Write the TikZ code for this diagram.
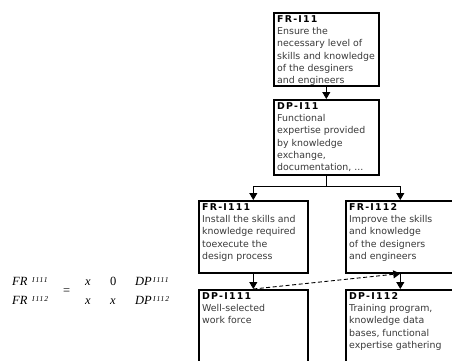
\documentclass[tikz,border=0pt]{standalone}
\usepackage{fontspec}
\usetikzlibrary{arrows.meta}
\newfontfamily\boxfont{DejaVu Sans}
\newfontfamily\headfont{DejaVu Sans}[LetterSpace=13]
\newfontfamily\eqfont{Liberation Serif}
\newfontfamily\eqsubfont{Liberation Serif}[LetterSpace=12]
\definecolor{bodygray}{HTML}{3A3A3A}
\tikzset{
  box/.style={draw=black, line width=1.6pt, rectangle, inner sep=0pt, anchor=north west},
  txt/.style={anchor=north west, inner sep=0pt, align=left, text=bodygray,
    font=\boxfont\fontsize{9.4}{12.3}\selectfont, xshift=4pt, yshift=-3.2pt},
  conn/.style={draw=black, line width=0.9pt},
  tip/.style={-{Triangle[width=8pt,length=7pt]}},
  eq/.style={anchor=base west, inner sep=0pt, font=\eqfont\itshape\fontsize{12.5}{14}\selectfont},
  eqrm/.style={anchor=base west, inner sep=0pt, font=\eqfont\fontsize{12.5}{14}\selectfont},
  eqsub/.style={anchor=base west, inner sep=0pt, font=\eqsubfont\itshape\fontsize{7.5}{8}\selectfont}
}
\newcommand{\hd}[1]{{\headfont\bfseries\color{black}#1}}
\begin{document}
\begin{tikzpicture}[x=1pt, y=-1pt]
\useasboundingbox (0,0) rectangle (452,360);
\clip (0,0) rectangle (452,360);
\fill[white] (0,0) rectangle (452,360);

% hierarchy boxes
\node[box, minimum width=105pt, minimum height=73pt] (fr11) at (273,12) {};
\node[box, minimum width=105pt, minimum height=75pt] (dp11) at (273,99) {};
\node[box, minimum width=109pt, minimum height=72pt] (fr111) at (198,200) {};
\node[box, minimum width=109pt, minimum height=72pt] (fr112) at (345,200) {};
\node[box, minimum width=109pt, minimum height=110pt] (dp111) at (198,289) {};
\node[box, minimum width=109pt, minimum height=110pt] (dp112) at (345,289) {};

% box texts
\node[txt] (t11) at (fr11.north west) {\hd{FR-I11}\\Ensure the\\necessary level of\\skills and knowledge\\of the desginers\\and engineers};
\node[txt] (td11) at (dp11.north west) {\hd{DP-I11}\\Functional\\expertise provided\\by knowledge\\exchange,\\documentation, ...};
\node[txt] (t111) at (fr111.north west) {\hd{FR-I111}\\Install the skills and\\knowledge required\\toexecute the\\design process};
\node[txt] (t112) at (fr112.north west) {\hd{FR-I112}\\Improve the skills\\and knowledge\\of the designers\\and engineers};
\node[txt] (td111) at (dp111.north west) {\hd{DP-I111}\\Well-selected\\work force};
\node[txt] (td112) at (dp112.north west) {\hd{DP-I112}\\Training program,\\knowledge data\\bases, functional\\expertise gathering};

% connectors
\draw[conn, tip] (fr11.south) -- (dp11.north);
\draw[conn] (dp11.south) -- ++(0,11) coordinate (split);
\draw[conn, tip] (split) -| (fr111.north);
\draw[conn, tip] (split) -| (fr112.north);
\draw[conn, tip] (fr111.south) -- (dp111.north);
\draw[conn, tip] (fr112.south) -- (dp112.north);
\draw[conn, tip, dashed, dash pattern=on 4pt off 2.5pt] (dp111.north) -- (fr112.south);

% design matrix
\node[eq] (fra) at (12,285) {FR};
\node[eqsub] (fras) at (32,282) {I111};
\node[eq] (frb) at (12,304) {FR};
\node[eqsub] (frbs) at (32,301) {I112};
\node[eqrm] (eqs) at (63,294.5) {=};
\node[eq] (a11) at (85,285) {x};
\node[eqrm] (a12) at (110,285) {0};
\node[eq] (dpa) at (135,285) {DP};
\node[eqsub] (dpas) at (153,282) {I111};
\node[eq] (a21) at (85,304) {x};
\node[eq] (a22) at (110,304) {x};
\node[eq] (dpb) at (135,304) {DP};
\node[eqsub] (dpbs) at (153,301) {I112};
\end{tikzpicture}
\end{document}
